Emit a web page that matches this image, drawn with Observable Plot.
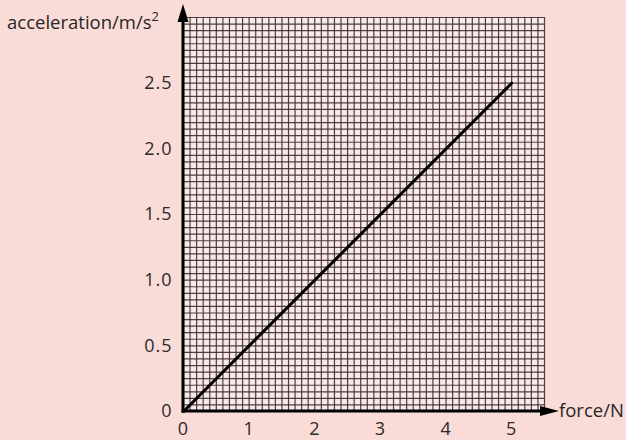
<!DOCTYPE html>
<html>
<head>
<meta charset="utf-8">
<script src="https://cdn.jsdelivr.net/npm/d3@7"></script>
<script src="https://cdn.jsdelivr.net/npm/@observablehq/plot@0.6"></script>
<style>
  html, body { margin: 0; padding: 0; background: #f9dcd7; }
  #chart { width: 626px; height: 440px; }
  #chart svg g[aria-label="x-axis tick label"] text,
  #chart svg g[aria-label="y-axis tick label"] text { letter-spacing: 1px; }
</style>
</head>
<body>
<div id="chart"></div>
<script>
// Data
const forceTicks = [0, 1, 2, 3, 4, 5];
const accelTicks = [0, 0.5, 1.0, 1.5, 2.0, 2.5];
const accelTickLabels = ["0", "0.5", "1.0", "1.5", "2.0", "2.5"];
const lineForce = [0, 5];
const lineAccel = [0, 2.5];
const xMax = 5.5;
const yMax = 3.0;
const gridStepX = 0.1;
const gridStepY = 0.05;
const xTitle = "force/N";
const yTitle = "acceleration/m/s";

const gridX = d3.range(0, Math.round(xMax / gridStepX) + 1).map(i => +(i * gridStepX).toFixed(2));
const gridY = d3.range(0, Math.round(yMax / gridStepY) + 1).map(i => +(i * gridStepY).toFixed(2));
const lineData = lineForce.map((f, i) => ({force: f, accel: lineAccel[i]}));

const font = "'Open Sans', 'DejaVu Sans', sans-serif";

const axesMark = (index, scales, values, dimensions) => {
  const {x, y} = scales;
  const x0 = x(0), y0 = y(0);
  const xr = x(xMax), yt = y(yMax);
  const g = d3.create("svg:g");
  // y axis
  g.append("line").attr("x1", x0).attr("x2", x0).attr("y1", y0 + 1.5).attr("y2", yt - 4)
    .attr("stroke", "#000").attr("stroke-width", 3);
  g.append("path").attr("d", `M${x0},${yt - 13} L${x0 - 5.5},${yt + 5} L${x0 + 5.5},${yt + 5} Z`).attr("fill", "#000");
  // x axis
  g.append("line").attr("x1", x0 - 1.5).attr("x2", xr + 2).attr("y1", y0).attr("y2", y0)
    .attr("stroke", "#000").attr("stroke-width", 3);
  g.append("path").attr("d", `M${xr + 15},${y0} L${xr - 4},${y0 - 5} L${xr - 4},${y0 + 5} Z`).attr("fill", "#000");
  // titles
  g.append("text").attr("x", xr + 15).attr("y", y0).attr("dy", "0.35em").attr("text-anchor", "start")
    .attr("font-family", font).attr("font-size", 18.5).attr("fill", "#2b2424").text(xTitle);
  const t = g.append("text").attr("x", 7).attr("y", 29).attr("text-anchor", "start")
    .attr("font-family", font).attr("font-size", 18.5).attr("fill", "#2b2424");
  t.append("tspan").text(yTitle);
  t.append("tspan").attr("dy", -8).attr("font-size", 13).text("2");
  return g.node();
};

const chart = Plot.plot({
  width: 626,
  height: 440,
  marginLeft: 183,
  marginRight: 82,
  marginTop: 17,
  marginBottom: 29,
  x: {domain: [0, xMax]},
  y: {domain: [0, yMax]},
  style: {background: "#f9dcd7", fontFamily: font, fontSize: "18px", color: "#2e2828"},
  marks: [
    Plot.frame({fill: "#f7e9e8", stroke: null}),
    Plot.ruleX(gridX, {stroke: "#3e2c2c", strokeWidth: 1.2, strokeOpacity: 0.9}),
    Plot.ruleY(gridY, {stroke: "#3e2c2c", strokeWidth: 1.2, strokeOpacity: 0.9}),
    Plot.axisX({ticks: forceTicks, tickSize: 0, tickPadding: 11, label: null, tickFormat: d => String(d)}),
    Plot.axisY({ticks: accelTicks, tickSize: 0, tickPadding: 11, label: null,
      tickFormat: (d, i) => accelTickLabels[accelTicks.indexOf(d)]}),
    Plot.line(lineData, {x: "force", y: "accel", stroke: "#000", strokeWidth: 3}),
    axesMark
  ]
});
document.getElementById("chart").append(chart);
</script>
</body>
</html>
